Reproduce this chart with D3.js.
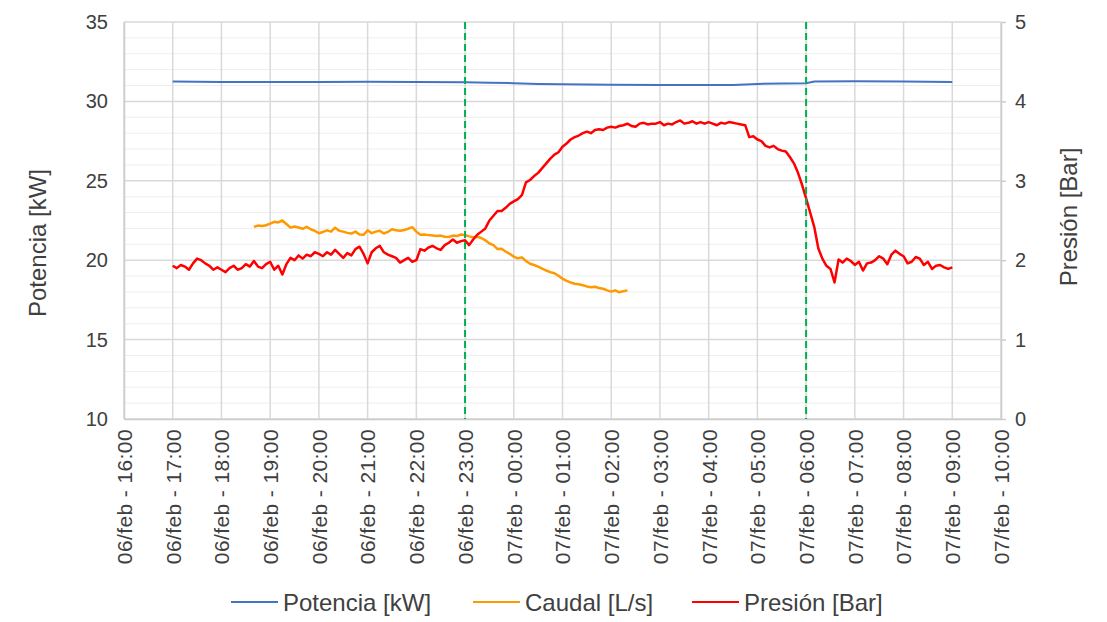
<!DOCTYPE html>
<html>
<head>
<meta charset="utf-8">
<script src="https://cdn.jsdelivr.net/npm/d3@7"></script>
<style>
  body { margin: 0; background: #fff; }
  text { font-family: "Liberation Sans", Arial, sans-serif; fill: #404040; }
</style>
</head>
<body>
<div id="chart"></div>
<script>
// ---- data ----
// Potencia [kW], left axis
var potenciaTimes = ["2023-02-06 17:00", "2023-02-06 18:00", "2023-02-06 19:00", "2023-02-06 20:00",
  "2023-02-06 21:00", "2023-02-06 22:00", "2023-02-06 23:00", "2023-02-06 23:30", "2023-02-07 00:00",
  "2023-02-07 00:30", "2023-02-07 01:00", "2023-02-07 02:00", "2023-02-07 03:00", "2023-02-07 04:00",
  "2023-02-07 04:30", "2023-02-07 05:00", "2023-02-07 05:30", "2023-02-07 06:00", "2023-02-07 06:10",
  "2023-02-07 07:00", "2023-02-07 08:00", "2023-02-07 09:00"];
var potenciaValues = [31.25, 31.22, 31.22, 31.22, 31.23, 31.22, 31.2, 31.18, 31.15, 31.1, 31.08,
  31.05, 31.03, 31.03, 31.04, 31.1, 31.12, 31.15, 31.25, 31.27, 31.25, 31.22];

// Caudal [L/s], left axis, one reading every 5 minutes from 18:40
var caudalStart = "2023-02-06 18:40";
var caudalValues = [22.10, 22.18, 22.15, 22.20, 22.30, 22.42, 22.38, 22.50, 22.28, 22.05, 22.12, 22.06,
  21.98, 22.10, 21.95, 21.85, 21.70, 21.78, 21.88, 21.80, 22.05, 21.85, 21.80, 21.72, 21.68, 21.80,
  21.62, 21.60, 21.88, 21.70, 21.80, 21.85, 21.68, 21.78, 21.95, 21.88, 21.85, 21.90, 21.98, 22.08,
  21.80, 21.60, 21.62, 21.58, 21.55, 21.52, 21.55, 21.48, 21.46, 21.55, 21.52, 21.62, 21.58,
  21.50, 21.45, 21.48, 21.40, 21.25, 21.05, 20.95, 20.70, 20.72, 20.55, 20.40, 20.22,
  20.12, 20.18, 19.95, 19.78, 19.70, 19.60, 19.47, 19.35, 19.25, 19.18, 19.02, 18.84,
  18.70, 18.60, 18.52, 18.48, 18.42, 18.35, 18.30, 18.33, 18.25, 18.20, 18.10, 18.02,
  18.10, 17.98, 18.05, 18.10];

// Presión [Bar], right axis, one reading every 5 minutes from 17:00
var presionStart = "2023-02-06 17:00";
var presionValues = [
  1.93, 1.90, 1.94, 1.92, 1.88, 1.96, 2.02, 2.00, 1.96, 1.93, 1.88, 1.91,
  1.88, 1.85, 1.90, 1.93, 1.88, 1.90, 1.95, 1.92, 1.99, 1.92, 1.90, 1.95,
  1.98, 1.88, 1.93, 1.82, 1.95, 2.03, 2.00, 2.06, 2.02, 2.07, 2.05, 2.10,
  2.08, 2.05, 2.10, 2.07, 2.13, 2.08, 2.03, 2.09, 2.06, 2.14, 2.17, 2.08,
  1.96, 2.10, 2.15, 2.18, 2.10, 2.07, 2.05, 2.03, 1.97, 2.00, 2.03, 1.98,
  2.00, 2.14, 2.12, 2.16, 2.18, 2.15, 2.13, 2.19, 2.22, 2.26, 2.22, 2.24,
  2.25, 2.19, 2.26, 2.32, 2.36, 2.40, 2.50, 2.56, 2.62, 2.62, 2.66, 2.71,
  2.74, 2.77, 2.82, 2.98, 3.01, 3.06, 3.10, 3.16, 3.22, 3.28, 3.33, 3.36,
  3.43, 3.47, 3.52, 3.55, 3.57, 3.60, 3.62, 3.60, 3.64, 3.65, 3.64, 3.67,
  3.68, 3.67, 3.69, 3.70, 3.72, 3.69, 3.68, 3.72, 3.73, 3.71, 3.72, 3.72,
  3.74, 3.70, 3.72, 3.71, 3.74, 3.76, 3.72, 3.73, 3.75, 3.72, 3.74, 3.72,
  3.74, 3.72, 3.70, 3.73, 3.72, 3.74, 3.73, 3.72, 3.71, 3.70, 3.55, 3.56,
  3.52, 3.50, 3.44, 3.42, 3.44, 3.40, 3.38, 3.37, 3.30, 3.22, 3.10, 2.95,
  2.78, 2.60, 2.42, 2.15, 2.02, 1.93, 1.89, 1.72, 2.01, 1.97, 2.02, 1.99,
  1.94, 1.98, 1.87, 1.96, 1.97, 2.00, 2.05, 2.02, 1.95, 2.07, 2.12, 2.08,
  2.05, 1.96, 1.98, 2.04, 2.02, 1.94, 1.98, 1.89, 1.93, 1.94, 1.91, 1.89,
  1.91];

// axes and markers
var xDomain = ["2023-02-06 16:00", "2023-02-07 10:00"];
var leftTicks = [10, 15, 20, 25, 30, 35];
var rightTicks = [0, 1, 2, 3, 4, 5];
var markerTimes = ["2023-02-06 23:00", "2023-02-07 06:00"];
var seriesNames = ["Potencia [kW]", "Caudal [L/s]", "Presión [Bar]"];
var seriesColors = ["#4472C4", "#FF9900", "#FF0000"];

// ---- drawing ----
var parseT = d3.timeParse("%Y-%m-%d %H:%M");
var W = 1107, H = 622;
var m = {left: 124, right: 1001, top: 22, bottom: 419};

var svg = d3.select("#chart").append("svg")
  .attr("width", W)
  .attr("height", H);

var x = d3.scaleTime()
  .domain(xDomain.map(parseT))
  .range([m.left, m.right]);
var yL = d3.scaleLinear().domain([10, 35]).range([m.bottom, m.top]);
var yR = d3.scaleLinear().domain([0, 5]).range([m.bottom, m.top]);

var hours = d3.timeHour.range(parseT(xDomain[0]), d3.timeMinute.offset(parseT(xDomain[1]), 1));

// minor horizontal grid (every 1 kW)
svg.append("g")
  .selectAll("line")
  .data(d3.range(11, 35).filter(function(v) { return v % 5 != 0; }))
  .enter().append("line")
  .attr("x1", m.left).attr("x2", m.right)
  .attr("y1", function(d) { return yL(d); })
  .attr("y2", function(d) { return yL(d); })
  .attr("stroke", "#eeeeee")
  .attr("stroke-width", 1);

// major horizontal grid
svg.append("g")
  .selectAll("line")
  .data(leftTicks)
  .enter().append("line")
  .attr("x1", m.left).attr("x2", m.right)
  .attr("y1", function(d) { return yL(d); })
  .attr("y2", function(d) { return yL(d); })
  .attr("stroke", "#d9d9d9")
  .attr("stroke-width", 1.5);

// vertical grid every hour
svg.append("g")
  .selectAll("line")
  .data(hours)
  .enter().append("line")
  .attr("x1", function(d) { return x(d); })
  .attr("x2", function(d) { return x(d); })
  .attr("y1", m.top).attr("y2", m.bottom)
  .attr("stroke", "#d9d9d9")
  .attr("stroke-width", 1.5);

// left axis
var axisL = svg.append("g")
  .attr("transform", "translate(" + m.left + ",0)")
  .call(d3.axisLeft(yL).tickValues(leftTicks).tickSize(0).tickPadding(16));
axisL.select(".domain").attr("stroke", "#cccccc").attr("stroke-width", 1.5);

// right axis
var axisR = svg.append("g")
  .attr("transform", "translate(" + m.right + ",0)")
  .call(d3.axisRight(yR).tickValues(rightTicks).tickFormat(d3.format("d"))
    .tickSize(5).tickPadding(9).tickSizeOuter(0));
axisR.select(".domain").attr("stroke", "#cccccc").attr("stroke-width", 1.5);
axisR.selectAll(".tick line").attr("stroke", "#cccccc").attr("stroke-width", 1.5);

// bottom axis
var axisB = svg.append("g")
  .attr("transform", "translate(0," + m.bottom + ")")
  .call(d3.axisBottom(x).tickValues(hours).tickSize(0).tickFormat(d3.timeFormat("%d/feb - %H:%M")));
axisB.select(".domain").attr("stroke", "#cccccc").attr("stroke-width", 1.5);
axisB.selectAll(".tick text")
  .attr("transform", "rotate(-90)")
  .attr("text-anchor", "end")
  .attr("x", -10)
  .attr("y", 0)
  .attr("dy", "0.35em");

svg.selectAll(".tick text")
  .style("font-size", "20px")
  .style("font-family", "Liberation Sans, Arial, sans-serif")
  .attr("fill", "#404040");
axisB.selectAll(".tick text")
  .style("font-size", "21px")
  .style("letter-spacing", "0.4px");

// axis titles
svg.append("text")
  .attr("transform", "translate(46,243) rotate(-90)")
  .attr("text-anchor", "middle")
  .style("font-size", "24px")
  .text("Potencia [kW]");

svg.append("text")
  .attr("transform", "translate(1077,217) rotate(-90)")
  .attr("text-anchor", "middle")
  .style("font-size", "24px")
  .text("Presión [Bar]");

// series
var lineL = d3.line()
  .x(function(d) { return x(d.t); })
  .y(function(d) { return yL(d.v); });
var lineR = d3.line()
  .x(function(d) { return x(d.t); })
  .y(function(d) { return yR(d.v); });

var potencia = potenciaValues.map(function(v, i) { return {t: parseT(potenciaTimes[i]), v: v}; });
var caudal = caudalValues.map(function(v, i) { return {t: d3.timeMinute.offset(parseT(caudalStart), 5 * i), v: v}; });
var presion = presionValues.map(function(v, i) { return {t: d3.timeMinute.offset(parseT(presionStart), 5 * i), v: v}; });

svg.append("path")
  .datum(potencia)
  .attr("d", lineL)
  .attr("fill", "none")
  .attr("stroke", seriesColors[0])
  .attr("stroke-width", 2);

svg.append("path")
  .datum(caudal)
  .attr("d", lineL)
  .attr("fill", "none")
  .attr("stroke", seriesColors[1])
  .attr("stroke-width", 2.5)
  .attr("stroke-linejoin", "round");

svg.append("path")
  .datum(presion)
  .attr("d", lineR)
  .attr("fill", "none")
  .attr("stroke", seriesColors[2])
  .attr("stroke-width", 2.5)
  .attr("stroke-linejoin", "round");

// green dashed markers
svg.append("g")
  .selectAll("line")
  .data(markerTimes.map(parseT))
  .enter().append("line")
  .attr("x1", function(d) { return x(d); })
  .attr("x2", function(d) { return x(d); })
  .attr("y1", m.top).attr("y2", m.bottom)
  .attr("stroke", "#00B050")
  .attr("stroke-width", 2)
  .attr("stroke-dasharray", "7,4");

// legend
var legendX = [231, 473, 692];
var legend = svg.append("g");
seriesNames.forEach(function(name, i) {
  legend.append("line")
    .attr("x1", legendX[i]).attr("x2", legendX[i] + 47)
    .attr("y1", 602).attr("y2", 602)
    .attr("stroke", seriesColors[i])
    .attr("stroke-width", 2);
  legend.append("text")
    .attr("x", legendX[i] + 52)
    .attr("y", 611)
    .style("font-size", "24px")
    .text(name);
});
</script>
</body>
</html>
